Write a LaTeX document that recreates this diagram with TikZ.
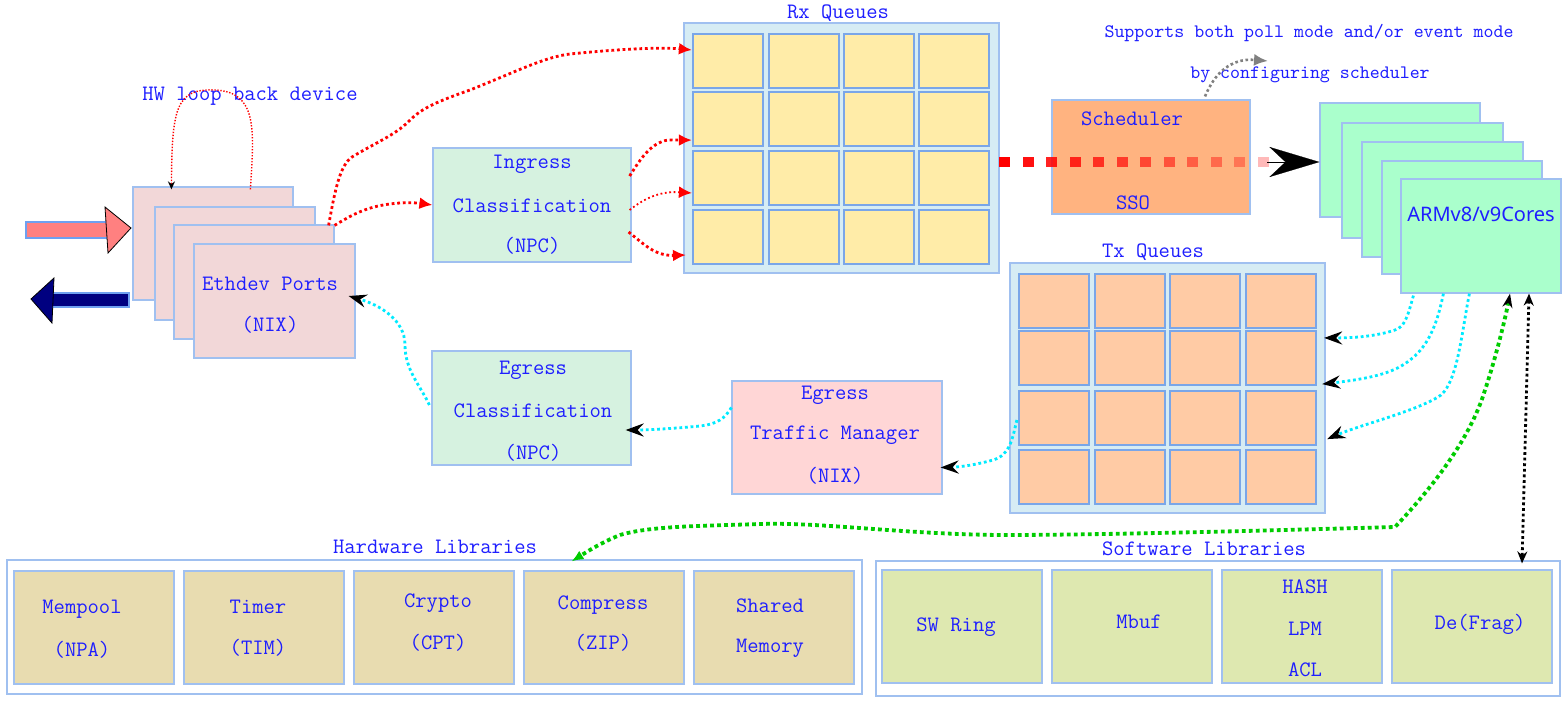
\documentclass[tikz,border=0pt]{standalone}
\usepackage{fontspec}
\newfontfamily\armfont{Noto Sans}
\usetikzlibrary{arrows.meta,calc,fit}
\definecolor{txt}{RGB}{30,30,255}
\definecolor{bdr}{RGB}{160,192,240}
\definecolor{cellbdr}{RGB}{122,166,232}
\definecolor{qbg}{RGB}{214,236,244}
\definecolor{rxfill}{RGB}{255,236,168}
\definecolor{txfill}{RGB}{255,203,165}
\definecolor{clsfill}{RGB}{214,242,224}
\definecolor{ethfill}{RGB}{242,215,216}
\definecolor{tmfill}{RGB}{255,214,214}
\definecolor{schfill}{RGB}{255,179,128}
\definecolor{armfill}{RGB}{170,255,204}
\definecolor{hwfill}{RGB}{232,220,176}
\definecolor{swfill}{RGB}{222,232,176}
\definecolor{cyanl}{RGB}{0,235,255}
\definecolor{greenl}{RGB}{0,204,0}
\definecolor{navyc}{RGB}{0,0,128}
\definecolor{pinkc}{RGB}{255,128,128}
\definecolor{shaftbdr}{RGB}{110,160,240}
\definecolor{grayl}{RGB}{128,128,128}
\newcommand\bx[6]{\node[#2,fit={(#3,#4)(#5,#6)}] (#1) {};}
\begin{document}
\begin{tikzpicture}[x=0.5pt,y=-0.5pt,
  box/.style={draw=bdr,line width=0.6pt,inner sep=0pt},
  cell/.style={draw=cellbdr,line width=1.1pt,inner sep=0pt},
  lbl/.style={text=txt,font=\ttfamily\fontsize{11}{13}\selectfont,inner sep=0pt},
  small/.style={text=txt,font=\ttfamily\fontsize{9.5}{11}\selectfont,inner sep=0pt},
  redflow/.style={draw=red,line width=1.4pt,dash pattern=on 1.4pt off 1.4pt,-{Latex[length=6.5pt,width=6pt]}},
  cyanflow/.style={draw=cyanl,line width=1.4pt,dash pattern=on 1.4pt off 1.4pt,-{Stealth[length=9pt,width=6.5pt,inset=3pt,color=black]}},
  greenflow/.style={draw=greenl,line width=1.9pt,dash pattern=on 1.9pt off 1.6pt},
  blackflow/.style={draw=black,line width=1.4pt,dash pattern=on 1.4pt off 1.4pt},
  grayflow/.style={draw=grayl,line width=1.3pt,dash pattern=on 1.3pt off 1.3pt,-{Latex[length=7pt,width=6pt]}}
]
\useasboundingbox (0,0) rectangle (1566,701);
\fill[white] (0,0) rectangle (1566,701);

% ---------- Ethdev ports stack ----------
\bx{eth1}{box,fill=ethfill}{133}{187}{293}{300}
\bx{eth2}{box,fill=ethfill}{155}{207}{315}{320}
\bx{eth3}{box,fill=ethfill}{174}{225}{334}{339}
\bx{eth4}{box,fill=ethfill}{194}{244}{355}{358}
\node[lbl] (ethA) at (270,284) {Ethdev Ports};
\node[lbl] (ethB) at (270,325) {(NIX)};

\node[lbl] (hwloop) at (250,96) {HW loop back device};
\draw[red,line width=0.7pt,dash pattern=on 0.7pt off 0.8pt,-{Stealth[length=4pt,width=3.5pt,color=black]}]
  ($(eth1.north west)+(118,3)$) .. controls (254,130) and (258,92) .. (215,90)
  .. controls (175,88) and (172,110) .. ($(eth1.north west)+(39,3)$);

% in / out arrows
\draw[shaftbdr,line width=0.8pt,fill=pinkc] (26,222) rectangle (108,238);
\draw[black,line width=0.4pt,fill=pinkc] (105,207) -- (131,228) -- (108,253) -- cycle;
\draw[shaftbdr,line width=0.8pt,fill=navyc] (52,293) rectangle (129,307);
\draw[black,line width=0.4pt,fill=navyc] (54,278) -- (31,299) -- (52,323) -- cycle;

% ---------- classification boxes ----------
\bx{ing}{box,fill=clsfill}{433}{148}{631}{262}
\node[lbl] (ingA) at (532,164) {Ingress};
\node[lbl] (ingB) at (532,206) {Classification};
\node[lbl] (ingC) at (532,246) {(NPC)};

\bx{egcl}{box,fill=clsfill}{432}{351}{631}{465}
\node[lbl] (egA) at (533,370) {Egress};
\node[lbl] (egB) at (533,411) {Classification};
\node[lbl] (egC) at (533,453) {(NPC)};

\bx{egtm}{box,fill=tmfill}{732}{381}{942}{494}
\node[lbl] (tmA) at (835,395) {Egress};
\node[lbl] (tmB) at (835,435) {Traffic Manager};
\node[lbl] (tmC) at (835,476) {(NIX)};

% ---------- Rx queues ----------
\bx{rxq}{box,fill=qbg}{684}{23}{999}{273}
\node[lbl] (rxT) at (838,13) {Rx Queues};
\foreach \r/\yy in {1/34,2/92,3/151,4/210}{
  \foreach \c/\xx in {1/693,2/769,3/844,4/919}{
    \node[cell,fill=rxfill,fit={(\xx,\yy)(\xx+70,\yy+54)}] (rx\r\c) {};
  }
}

% ---------- Scheduler ----------
\bx{sched}{box,fill=schfill}{1052}{100}{1250}{214}
\node[lbl] (schA) at (1132,119) {Scheduler};
\node[lbl] (schB) at (1133,203) {SSO};

\node[small] (supA) at (1309,33) {Supports both poll mode and/or event mode};
\node[small] (supB) at (1310,75) {by configuring scheduler};
\coordinate (grtip) at (1268,61);
\draw[grayflow] ($(sched.north)+(54,-3)$) .. controls (1212,80) and (1222,66) .. (1240,61)
  .. controls (1248,59) and (1255,60) .. (grtip);

% ---------- ARM cores ----------
\bx{arm1}{box,fill=armfill}{1320}{103}{1480}{217}
\bx{arm2}{box,fill=armfill}{1342}{123}{1503}{238}
\bx{arm3}{box,fill=armfill}{1362}{142}{1523}{257}
\bx{arm4}{box,fill=armfill}{1382}{161}{1542}{274}
\bx{arm5}{box,fill=armfill}{1401}{179}{1561}{293}
\node[text=txt,font=\armfont\fontsize{10}{12}\selectfont,inner sep=0pt] (armT) at (1481,214) {ARMv8/v9Cores};

% big dotted flow Rx -> cores
\foreach \i in {0,...,11}{
  \pgfmathsetmacro\op{1-0.066*\i}
  \fill[red,fill opacity=\op] ({999+23.5*\i},157) rectangle +(11,10);
}
\draw[line width=0.1pt,-{Stealth[length=25pt,width=15pt,inset=8pt]}] ($(arm1.west)+(-52,2)$) -- ($(arm1.west)+(0,2)$);

% ---------- Tx queues ----------
\bx{txq}{box,fill=qbg}{1010}{263}{1325}{513}
\node[lbl] (txT) at (1153,252) {Tx Queues};
\foreach \r/\yy in {1/274,2/331,3/391,4/450}{
  \foreach \c/\xx in {1/1019,2/1095,3/1170,4/1246}{
    \node[cell,fill=txfill,fit={(\xx,\yy)(\xx+70,\yy+54)}] (tx\r\c) {};
  }
}

% ---------- Hardware libraries ----------
\bx{hwlib}{box}{7}{560}{862}{694}
\node[lbl] (hwT) at (435,547) {Hardware Libraries};
\foreach \i/\xx in {1/14,2/184,3/354,4/524,5/694}{
  \bx{hw\i}{box,fill=hwfill}{\xx}{571}{\xx+160}{684}
}
\node[lbl] (hw1a) at (82,609) {Mempool};
\node[lbl] (hw1b) at (82,650) {(NPA)};
\node[lbl] (hw2a) at (258,607) {Timer};
\node[lbl] (hw2b) at (258,648) {(TIM)};
\node[lbl] (hw3a) at (438,603) {Crypto};
\node[lbl] (hw3b) at (438,643) {(CPT)};
\node[lbl] (hw4a) at (603,605) {Compress};
\node[lbl] (hw4b) at (603,643) {(ZIP)};
\node[lbl] (hw5a) at (770,606) {Shared};
\node[lbl] (hw5b) at (770,648) {Memory};

% ---------- Software libraries ----------
\bx{swlib}{box}{876}{561}{1560}{696}
\node[lbl] (swT) at (1204,549) {Software Libraries};
\foreach \i/\xx in {1/882,2/1052,3/1222,4/1392}{
  \bx{sw\i}{box,fill=swfill}{\xx}{570}{\xx+160}{683}
}
\node[lbl] (sw1a) at (956,627) {SW Ring};
\node[lbl] (sw2a) at (1139,622) {Mbuf};
\node[lbl] (sw3a) at (1305,587) {HASH};
\node[lbl] (sw3b) at (1305,629) {LPM};
\node[lbl] (sw3c) at (1305,670) {ACL};
\node[lbl] (sw4a) at (1480,624) {De(Frag)};

% ---------- red ingress flows ----------
\draw[redflow] ($(eth3.north east)+(-6,1)$) .. controls (335,190) and (340,165) .. (352,157)
  .. controls (375,143) and (395,135) .. (408,122)
  .. controls (420,110) and (430,104) .. (470,90)
  .. controls (520,70) and (545,57) .. (570,54)
  .. controls (620,49) and (660,47) .. ($(rx11.west)+(0,-11)$);
\draw[redflow] ($(eth3.north east)+(0,1)$) .. controls (355,213) and (370,205) .. (400,203)
  .. controls (415,202) and (425,204) .. (ing.west);
\draw[redflow] ($(ing.east)+(-2,-29)$) .. controls (640,160) and (650,143) .. (668,140)
  -- ($(rx21.south west)+(0,-7)$);
\draw[redflow,line width=0.9pt,dash pattern=on 0.9pt off 1.3pt] ($(ing.east)+(-2,5)$) .. controls (645,198) and (660,191) .. ($(rx31.west)+(0,15)$);
\draw[redflow] ($(ing.east)+(-3,27)$) .. controls (645,245) and (655,256) .. ($(rx41.west)+(-6,18)$);

% ---------- cyan egress flows ----------
\draw[cyanflow] ($(arm5.south west)+(13,2)$) .. controls (1408,315) and (1405,327) .. (1395,330)
  .. controls (1380,335) and (1360,338) .. ($(tx24.north east)+(7,8)$);
\draw[cyanflow] ($(arm5.south west)+(43,0)$) .. controls (1438,320) and (1430,345) .. (1410,360)
  .. controls (1395,372) and (1375,378) .. ($(tx24.south east)+(5,-2)$);
\draw[cyanflow] ($(arm5.south west)+(69,0)$) .. controls (1462,330) and (1458,380) .. (1441,395)
  .. controls (1420,410) and (1360,425) .. ($(tx34.south east)+(10,-7)$);
\draw[cyanflow] ($(tx31.west)+(-1,2)$) .. controls (1012,440) and (1010,455) .. (993,460)
  .. controls (975,465) and (960,467) .. ($(egtm.east)+(-2,30)$);
\draw[cyanflow] ($(egtm.west)+(0,-30)$) .. controls (725,418) and (718,424) .. (700,426)
  .. controls (680,428) and (650,430) .. ($(egcl.east)+(-6,22)$);
\draw[cyanflow] ($(egcl.west)+(-2,-3)$) .. controls (420,385) and (405,370) .. (405,345)
  .. controls (405,320) and (380,305) .. ($(eth4.east)+(-7,-5)$);

% ---------- green and black flows ----------
\draw[greenflow,{Stealth[length=7pt,width=5pt,color=black]}-{Latex[length=6pt,width=5pt]}]
  ($(arm5.south)+(29,0)$) .. controls (1505,320) and (1495,360) .. (1485,390)
  .. controls (1470,440) and (1430,490) .. (1395,527)
  .. controls (1250,531) and (1100,535) .. (1000,535)
  .. controls (900,534) and (820,522) .. (760,524)
  .. controls (700,526) and (650,526) .. (620,535)
  .. controls (600,543) and (585,553) .. ($(hwlib.north)+(137,2)$);
\draw[blackflow,{Stealth[length=6pt,width=5pt]}-{Stealth[length=6pt,width=5pt]}]
  ($(arm5.south)+(48,0)$) -- ($(sw4.north)+(50,-6)$);
\end{tikzpicture}
\end{document}
